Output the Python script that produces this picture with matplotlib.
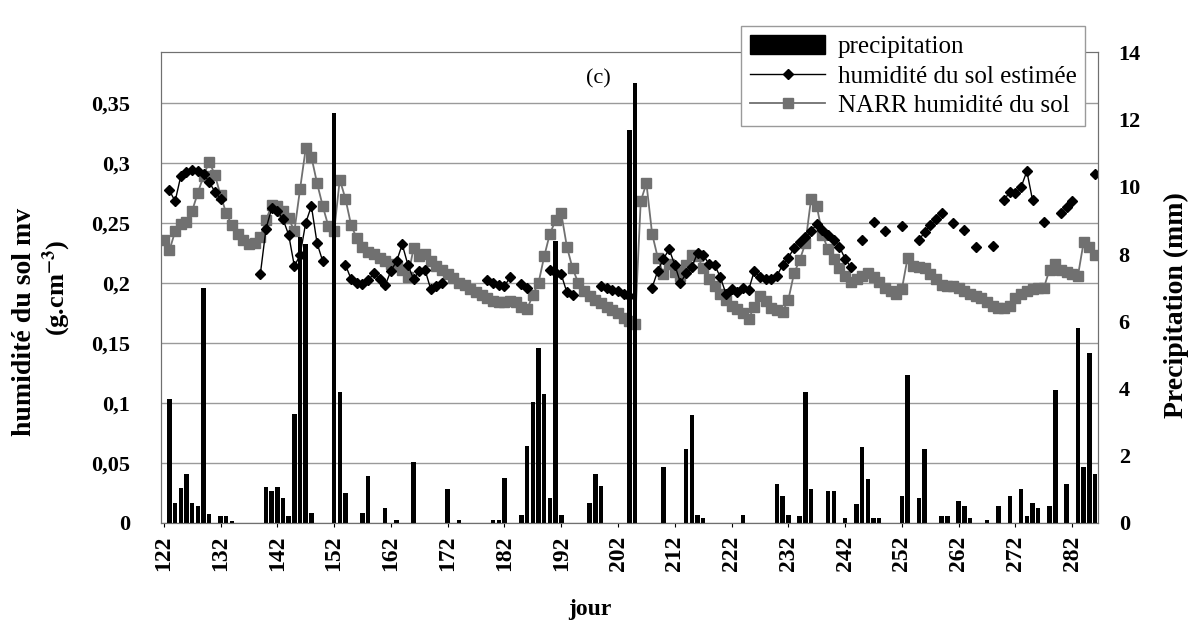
import numpy as np
import matplotlib
matplotlib.use("Agg")
import matplotlib.pyplot as plt
from matplotlib.patches import Patch
from matplotlib.lines import Line2D

plt.rcParams['font.family'] = ['Liberation Serif', 'DejaVu Serif']
plt.rcParams['mathtext.fontset'] = 'stix'

# jours 122 .. 286
jours = np.arange(122, 287)
nan = np.nan

# precipitation (mm), une valeur par jour
precip = [
    0, 3.7, 0.6, 1.05, 1.45, 0.6, 0.5, 7.0, 0.27, 0,          # 122-131
    0.2, 0.2, 0.05, 0, 0, 0, 0, 0, 1.07, 0.95,               # 132-141
    1.07, 0.75, 0.2, 3.25, 8.5, 8.3, 0.3, 0, 0, 0,           # 142-151
    12.2, 3.9, 0.9, 0, 0, 0.3, 1.4, 0, 0, 0.45,              # 152-161
    0, 0.1, 0, 0, 1.82, 0, 0, 0, 0, 0,                       # 162-171
    1.0, 0, 0.1, 0, 0, 0, 0, 0, 0.1, 0.1,                    # 172-181
    1.35, 0, 0, 0.25, 2.3, 3.6, 5.2, 3.85, 0.75, 8.4,        # 182-191
    0.25, 0, 0, 0, 0, 0.6, 1.45, 1.1, 0, 0,                  # 192-201
    0, 0, 11.7, 13.1, 0, 0, 0, 0, 1.65, 0,                   # 202-211
    0, 0, 2.2, 3.2, 0.25, 0.15, 0, 0, 0, 0,                  # 212-221
    0, 0, 0.25, 0, 0, 0, 0, 0, 1.15, 0.8,                    # 222-231
    0.25, 0, 0.2, 3.9, 1.0, 0, 0, 0.95, 0.95, 0,             # 232-241
    0.15, 0, 0.55, 2.25, 1.3, 0.15, 0.15, 0, 0, 0,           # 242-251
    0.8, 4.4, 0, 0.75, 2.2, 0, 0, 0.2, 0.2, 0,               # 252-261
    0.65, 0.5, 0.15, 0, 0, 0.1, 0, 0.5, 0, 0.8,              # 262-271
    0, 1.0, 0.2, 0.6, 0.45, 0, 0.5, 3.95, 0, 1.15,           # 272-281
    0, 5.8, 1.65, 5.07, 1.45,                                # 282-286
]

# humidite du sol estimee (g.cm-3), nan = pas de valeur
hum_est = [
    nan, 0.277, 0.268, 0.289, 0.292, 0.294, 0.293, 0.291, 0.284, 0.276,   # 122-131
    0.270, nan, nan, nan, nan, nan, nan, 0.207, 0.245, 0.262,             # 132-141
    0.260, 0.253, 0.240, 0.214, 0.223, 0.250, 0.264, 0.233, 0.218, nan,   # 142-151
    nan, nan, 0.215, 0.203, 0.200, 0.199, 0.202, 0.208, 0.203, 0.198,     # 152-161
    0.210, 0.218, 0.232, 0.215, 0.203, 0.210, 0.211, 0.195, 0.197, 0.200, # 162-171
    nan, nan, nan, nan, nan, nan, nan, 0.202, 0.200, 0.198,               # 172-181
    0.197, 0.205, nan, 0.199, 0.196, nan, nan, nan, 0.211, 0.208,         # 182-191
    0.207, 0.192, 0.190, nan, nan, nan, nan, 0.197, 0.196, 0.194,         # 192-201
    0.193, 0.191, 0.189, nan, nan, nan, 0.196, 0.210, 0.220, 0.228,       # 202-211
    0.215, 0.200, 0.208, 0.213, 0.225, 0.223, 0.216, 0.215, 0.205, 0.191, # 212-221
    0.195, 0.192, 0.196, 0.194, 0.210, 0.205, 0.203, 0.203, 0.206, 0.215, # 222-231
    0.221, 0.229, 0.234, 0.238, 0.243, 0.249, 0.244, 0.240, 0.236, 0.230, # 232-241
    0.220, 0.213, nan, 0.236, nan, 0.251, nan, 0.243, nan, nan,           # 242-251
    0.247, nan, nan, 0.236, 0.242, 0.248, 0.253, 0.258, nan, 0.250,       # 252-261
    nan, 0.244, nan, 0.230, nan, nan, 0.231, nan, 0.269, 0.276,           # 262-271
    0.275, 0.280, 0.293, 0.269, nan, 0.251, nan, nan, 0.258, 0.263,       # 272-281
    0.268, nan, nan, nan, 0.291,                                          # 282-286
]

# NARR humidite du sol (g.cm-3)
hum_narr = [
    0.236, 0.227, 0.243, 0.249, 0.251, 0.260, 0.275, 0.289, 0.301, 0.290, # 122-131
    0.273, 0.258, 0.248, 0.241, 0.236, 0.232, 0.233, 0.238, 0.252, 0.265, # 132-141
    0.264, 0.260, 0.254, 0.243, 0.278, 0.312, 0.305, 0.283, 0.264, 0.247, # 142-151
    0.243, 0.286, 0.270, 0.248, 0.237, 0.230, 0.226, 0.224, 0.221, 0.218, # 152-161
    0.216, 0.214, 0.211, 0.205, 0.229, 0.222, 0.224, 0.218, 0.214, 0.211, # 162-171
    0.207, 0.204, 0.200, 0.198, 0.195, 0.192, 0.190, 0.187, 0.185, 0.184, # 172-181
    0.184, 0.185, 0.184, 0.180, 0.178, 0.190, 0.200, 0.222, 0.241, 0.252, # 182-191
    0.258, 0.230, 0.212, 0.200, 0.193, 0.189, 0.186, 0.183, 0.180, 0.177, # 192-201
    0.175, 0.171, 0.168, 0.166, 0.268, 0.283, 0.241, 0.221, 0.207, 0.216, # 202-211
    0.209, 0.206, 0.215, 0.223, 0.222, 0.212, 0.203, 0.197, 0.191, 0.186, # 212-221
    0.181, 0.178, 0.175, 0.170, 0.180, 0.189, 0.185, 0.179, 0.177, 0.176, # 222-231
    0.186, 0.208, 0.219, 0.233, 0.270, 0.264, 0.240, 0.228, 0.220, 0.212, # 232-241
    0.206, 0.201, 0.203, 0.206, 0.208, 0.205, 0.201, 0.196, 0.193, 0.191, # 242-251
    0.195, 0.221, 0.214, 0.213, 0.212, 0.207, 0.203, 0.198, 0.197, 0.197, # 252-261
    0.196, 0.193, 0.191, 0.189, 0.187, 0.184, 0.181, 0.179, 0.179, 0.181, # 262-271
    0.187, 0.191, 0.193, 0.195, 0.196, 0.196, 0.211, 0.216, 0.211, 0.209, # 272-281
    0.207, 0.206, 0.234, 0.230, 0.223,                                    # 282-286
]

x_ticks = np.arange(122, 283, 10)
left_ticks = [0, 0.05, 0.1, 0.15, 0.2, 0.25, 0.3, 0.35]
left_labels = ['0', '0,05', '0,1', '0,15', '0,2', '0,25', '0,3', '0,35']
right_ticks = [0, 2, 4, 6, 8, 10, 12, 14]

fig = plt.figure(figsize=(11.92, 6.24), dpi=100)
ax = fig.add_axes([0.135, 0.162, 0.786, 0.754])
ax2 = ax.twinx()

# humidite (axe gauche)
ax.plot(jours, hum_narr, color='#707070', lw=1.3, marker='s', ms=6.5,
        mfc='#707070', mec='#707070')
ax.plot(jours, hum_est, color='black', lw=1.0, marker='D', ms=5.5,
        mfc='black', mec='black')
ax.set_ylim(0, 0.392)
ax.set_yticks(left_ticks)
ax.set_yticklabels(left_labels, fontsize=16, fontweight='bold')
ax.yaxis.grid(True, color='#9a9a9a', lw=1.0)
ax.set_axisbelow(True)
ax.set_xlim(121.5, 286.5)
ax.set_xticks(x_ticks)
ax.set_xticklabels([str(t) for t in x_ticks], rotation=90, fontsize=17,
                   fontweight='bold')
ax.tick_params(axis='x', length=3, pad=6)
ax.tick_params(axis='y', length=0, pad=22)

# precipitation (axe droit), barres au-dessus des lignes
ax2.bar(jours, precip, width=0.8, color='black')
ax2.set_ylim(0, 14)
ax2.set_yticks(right_ticks)
ax2.set_yticklabels([str(t) for t in right_ticks], fontsize=16,
                    fontweight='bold')
ax2.tick_params(axis='y', length=0, pad=15)

for a in (ax, ax2):
    for s in a.spines.values():
        s.set_color('#707070')

# titres des axes
fig.text(25 / 1192, 1 - 322 / 624, 'humidité du sol mv', rotation=90,
         fontsize=20, fontweight='bold', ha='center', va='center')
fig.text(57 / 1192, 1 - 288 / 624, r'(g.cm$^{\mathbf{-3}}$)', rotation=90,
         fontsize=19, fontweight='bold', ha='center', va='center')
fig.text(1176 / 1192, 1 - 305 / 624, 'Precipitation (mm)', rotation=90,
         fontsize=20, fontweight='bold', ha='center', va='center')
fig.text(590 / 1192, 1 - 610 / 624, 'jour', fontsize=17, fontweight='bold',
         ha='center', va='center')

ax.text(198.5, 0.366, '(c)', fontsize=16, ha='center')

handles = [
    Patch(facecolor='black', edgecolor='black'),
    Line2D([], [], color='black', lw=1.0, marker='D', ms=5.5),
    Line2D([], [], color='#707070', lw=1.3, marker='s', ms=6.5),
]
labels = ['precipitation', 'humidité du sol estimée', 'NARR humidité du sol']
leg = fig.legend(handles, labels, loc='upper left',
                 bbox_to_anchor=(0.622, 0.958), borderaxespad=0,
                 fontsize=18, frameon=True, fancybox=False,
                 edgecolor='#9a9a9a', framealpha=1,
                 handlelength=3.0, handleheight=0.8, borderpad=0.35,
                 labelspacing=0.25, handletextpad=0.5)
leg.get_frame().set_linewidth(1.0)

fig.savefig('out.png', dpi=100)
